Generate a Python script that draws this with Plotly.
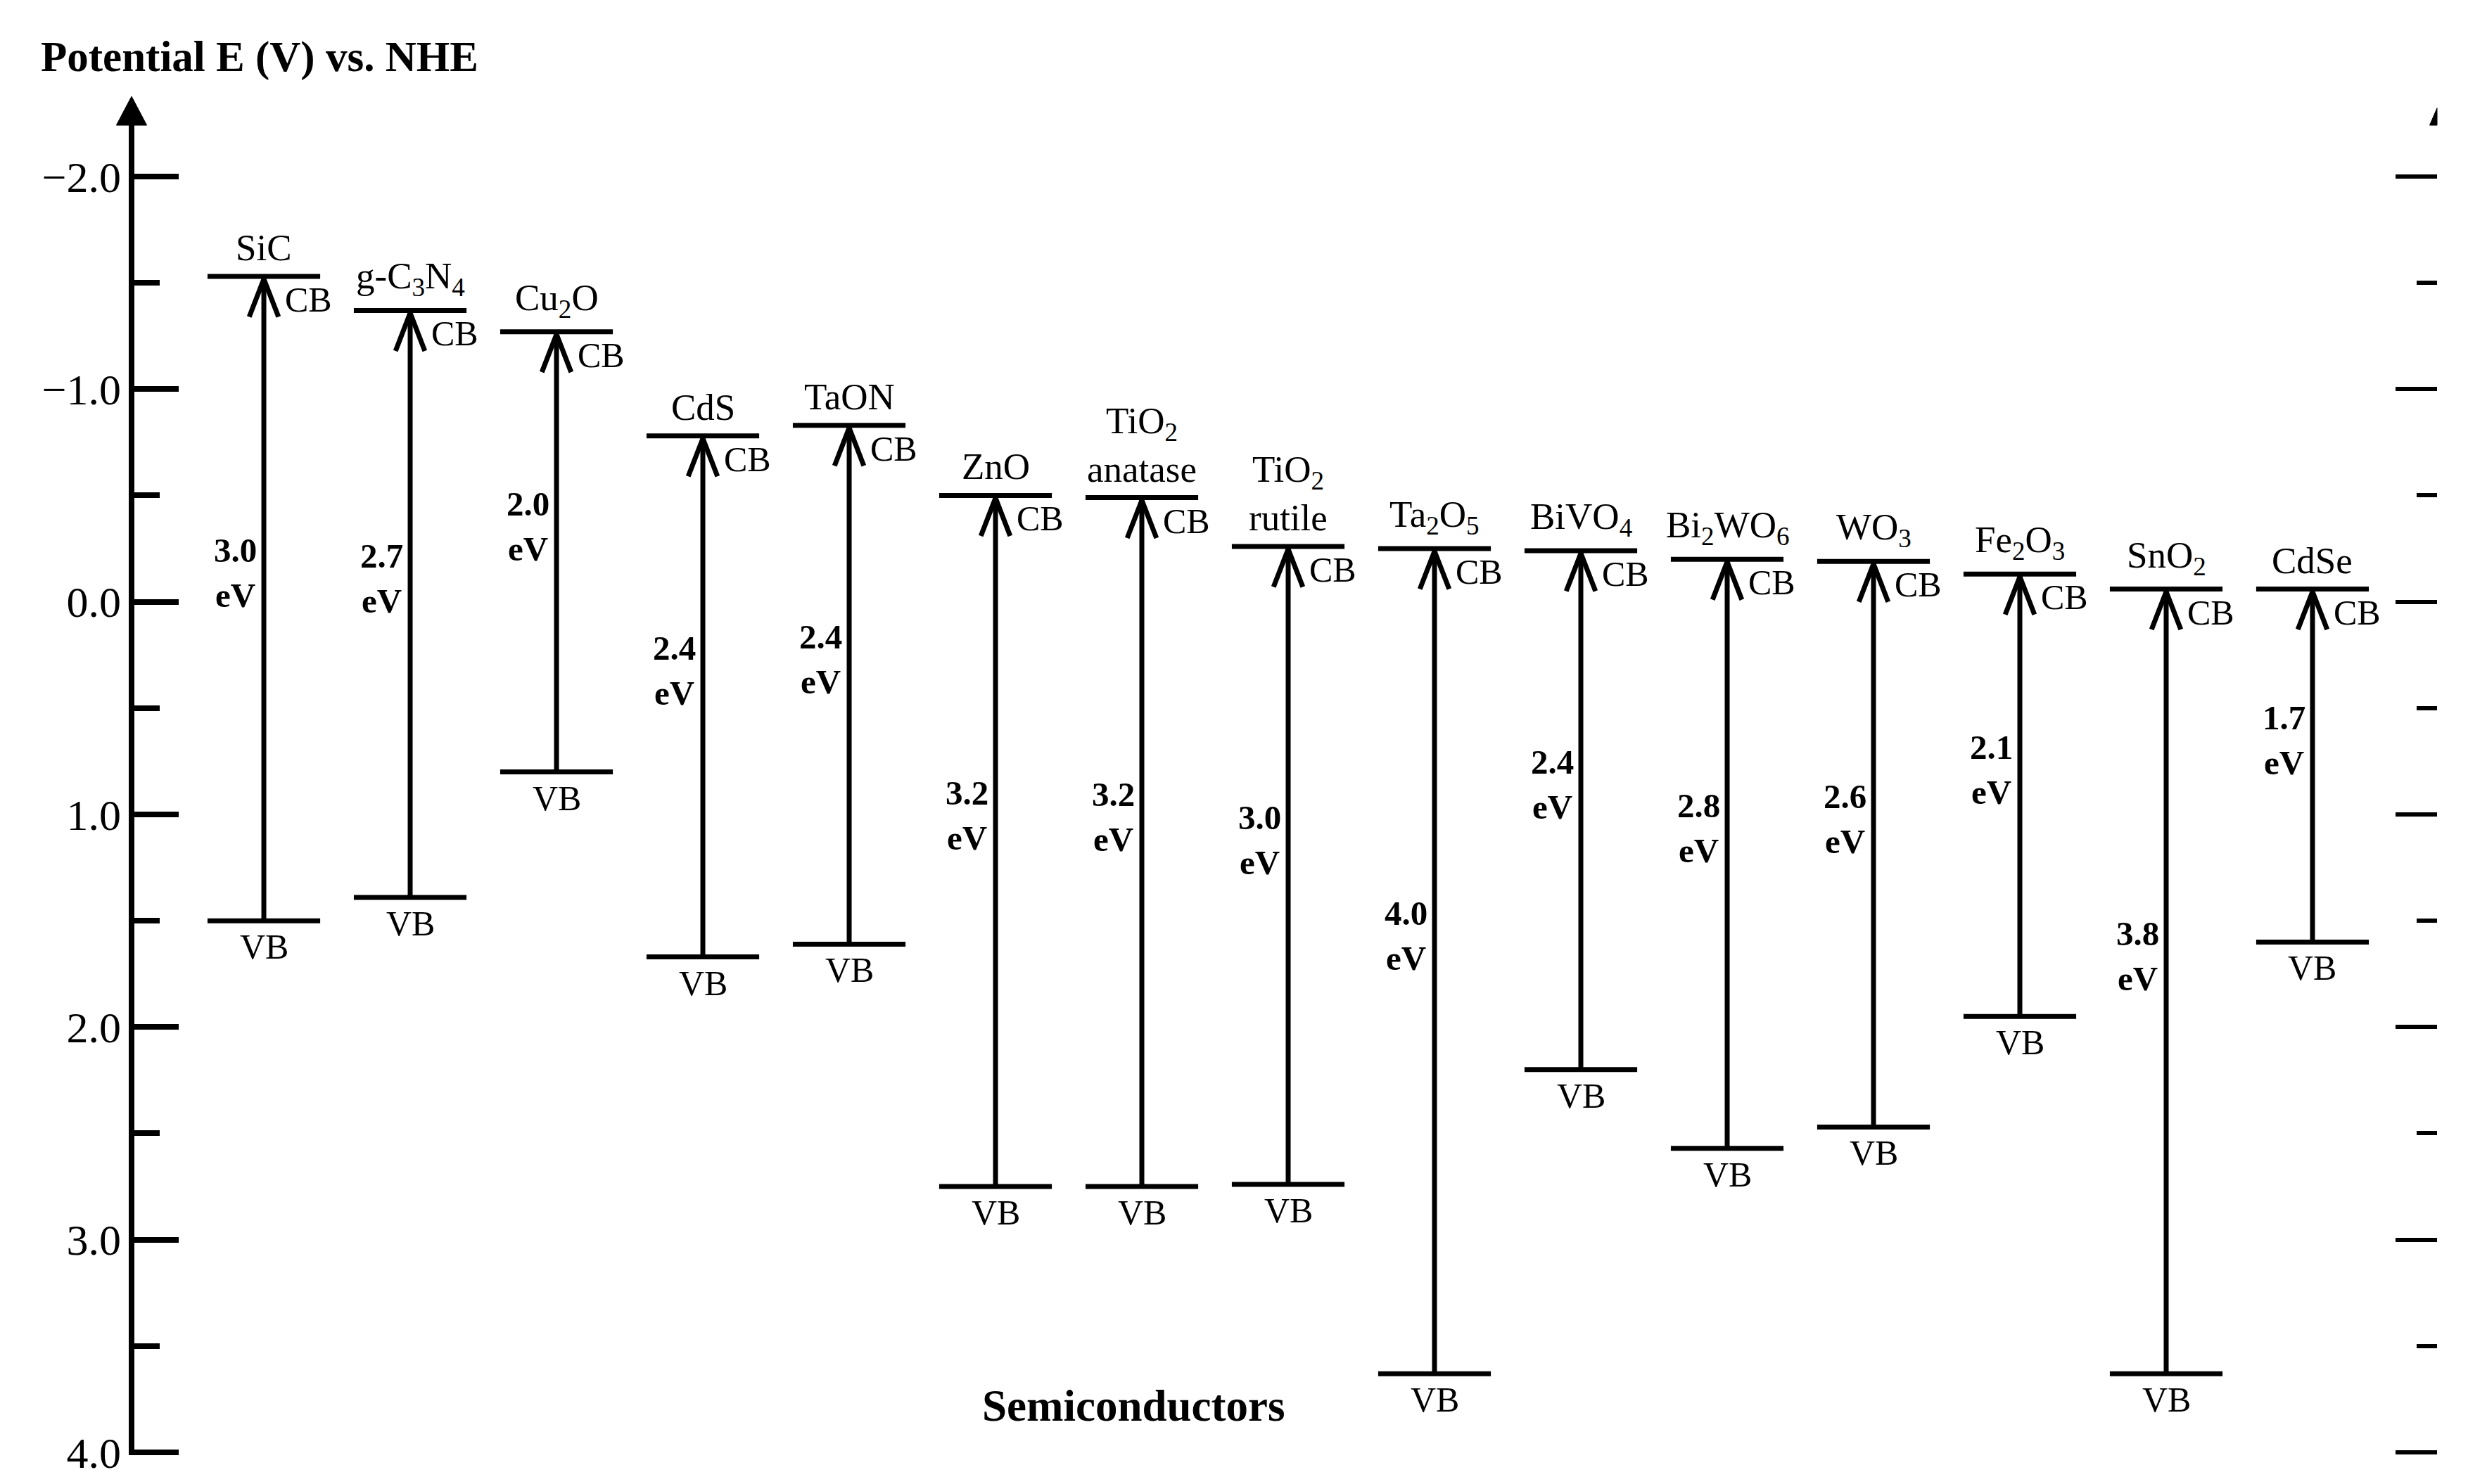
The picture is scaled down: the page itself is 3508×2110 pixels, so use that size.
import plotly.graph_objects as go

# ---------------- data ----------------
names = ["SiC", "g-C<sub>3</sub>N<sub>4</sub>", "Cu<sub>2</sub>O", "CdS", "TaON", "ZnO",
         "TiO<sub>2</sub><br>anatase", "TiO<sub>2</sub><br>rutile", "Ta<sub>2</sub>O<sub>5</sub>",
         "BiVO<sub>4</sub>", "Bi<sub>2</sub>WO<sub>6</sub>", "WO<sub>3</sub>",
         "Fe<sub>2</sub>O<sub>3</sub>", "SnO<sub>2</sub>", "CdSe"]
cb_levels = [-1.53, -1.37, -1.27, -0.78, -0.83, -0.50, -0.49, -0.26, -0.25,
             -0.24, -0.20, -0.19, -0.13, -0.06, -0.06]
vb_levels = [1.50, 1.39, 0.80, 1.67, 1.61, 2.75, 2.75, 2.74, 3.63,
             2.20, 2.57, 2.47, 1.95, 3.63, 1.60]
gap_labels = ["3.0", "2.7", "2.0", "2.4", "2.4", "3.2", "3.2", "3.0", "4.0",
              "2.4", "2.8", "2.6", "2.1", "3.8", "1.7"]
y_tickvals = [-2.0, -1.0, 0.0, 1.0, 2.0, 3.0, 4.0]
y_ticktext = ["\u22122.0", "\u22121.0", "0.0", "1.0", "2.0", "3.0", "4.0"]
y_minor = [-1.5, -0.5, 0.5, 1.5, 2.5, 3.5]

# ---------------- style ----------------
SERIF = "Liberation Serif, Times New Roman, serif"
HALF_W = 0.385      # half width of level lines (x units)
HEAD_DX = 0.10      # chevron half width (x units)
HEAD_DY = 0.19      # chevron length (V)
LW = 7

xs = list(range(len(names)))

def segs(pairs):
    X, Y = [], []
    for (x0, y0), (x1, y1) in pairs:
        X += [x0, x1, None]
        Y += [y0, y1, None]
    return X, Y

cbX, cbY = segs([((i - HALF_W, c), (i + HALF_W, c)) for i, c in zip(xs, cb_levels)])
vbX, vbY = segs([((i - HALF_W, v), (i + HALF_W, v)) for i, v in zip(xs, vb_levels)])
shX, shY = segs([((i, v), (i, c + 0.01)) for i, c, v in zip(xs, cb_levels, vb_levels)])
hdX, hdY = [], []
for i, c in zip(xs, cb_levels):
    hdX += [i - HEAD_DX, i, i + HEAD_DX, None]
    hdY += [c + HEAD_DY, c + 0.012, c + HEAD_DY, None]

fig = go.Figure()
for X, Y in [(cbX, cbY), (vbX, vbY), (shX, shY), (hdX, hdY)]:
    fig.add_trace(go.Scatter(x=X, y=Y, mode="lines", line=dict(color="black", width=LW),
                             hoverinfo="skip", showlegend=False, cliponaxis=False))
# invisible trace for the right-hand tick axis
fig.add_trace(go.Scatter(x=[0], y=[0], yaxis="y2", mode="markers",
                         marker=dict(opacity=0), showlegend=False, hoverinfo="skip"))

ann = []
for i, n, c, v, g in zip(xs, names, cb_levels, vb_levels, gap_labels):
    ann.append(dict(x=i, y=c, xref="x", yref="y", text=n, showarrow=False,
                    xanchor="center", yanchor="bottom", yshift=10,
                    font=dict(family=SERIF, size=53, color="black")))
    ann.append(dict(x=i, y=c, xref="x", yref="y", text="CB", showarrow=False,
                    xanchor="left", yanchor="middle", xshift=28, yshift=-33,
                    font=dict(family=SERIF, size=50, color="black")))
    ann.append(dict(x=i, y=v, xref="x", yref="y", text="VB", showarrow=False,
                    xanchor="center", yanchor="middle", yshift=-37,
                    font=dict(family=SERIF, size=50, color="black")))
    ann.append(dict(x=i, y=(c + v) / 2 - 0.12, xref="x", yref="y",
                    text="<b>%s<br>eV</b>" % g, showarrow=False, align="center",
                    xanchor="right", yanchor="middle", xshift=-8,
                    font=dict(family=SERIF, size=49, color="black")))

ann.append(dict(x=-0.04, y=1.0215, xref="paper", yref="paper",
                text="<b>Potential E (V) vs. NHE</b>", showarrow=False,
                xanchor="left", yanchor="middle",
                font=dict(family=SERIF, size=61, color="black")))
ann.append(dict(x=0.4345, y=0.053, xref="paper", yref="paper",
                text="<b>Semiconductors</b>", showarrow=False,
                xanchor="center", yanchor="middle",
                font=dict(family=SERIF, size=63, color="black")))

shapes = [
    # left axis line with filled arrow head
    dict(type="line", xref="paper", yref="paper", x0=0, x1=0, y0=0.0177, y1=0.975,
         line=dict(color="black", width=8)),
    dict(type="path", xref="paper", yref="paper",
         path="M -0.0066,0.9727 L 0,0.9934 L 0.0066,0.9727 Z",
         fillcolor="black", line=dict(color="black", width=1)),
    # small fragment of the right arrow head
    dict(type="path", xref="paper", yref="paper",
         path="M 0.9968,0.9727 L 1.0,0.9727 L 1.0,0.9850 Z",
         fillcolor="black", line=dict(color="black", width=1)),
]

fig.update_layout(
    width=3508, height=2110,
    margin=dict(l=179, r=52, t=116, b=14),
    paper_bgcolor="white", plot_bgcolor="white",
    showlegend=False,
    annotations=ann, shapes=shapes,
    xaxis=dict(range=[-0.904, 14.851], visible=False, showgrid=False, zeroline=False),
    yaxis=dict(range=[4.129, -2.420], showgrid=False, zeroline=False, showline=False,
               tickmode="array", tickvals=y_tickvals, ticktext=y_ticktext,
               ticks="inside", ticklen=67, tickwidth=8, tickcolor="black",
               ticklabelstandoff=14,
               tickfont=dict(family=SERIF, size=62, color="black"),
               minor=dict(tickmode="array", tickvals=y_minor, ticks="inside",
                          ticklen=40, tickwidth=8, tickcolor="black", showgrid=False)),
    yaxis2=dict(range=[4.129, -2.420], overlaying="y", side="right",
                showgrid=False, zeroline=False, showline=False, showticklabels=False,
                tickmode="array", tickvals=y_tickvals,
                ticks="inside", ticklen=59, tickwidth=6, tickcolor="black",
                minor=dict(tickmode="array", tickvals=y_minor, ticks="inside",
                           ticklen=29, tickwidth=6, tickcolor="black", showgrid=False)),
)

fig.write_html("out.html")
